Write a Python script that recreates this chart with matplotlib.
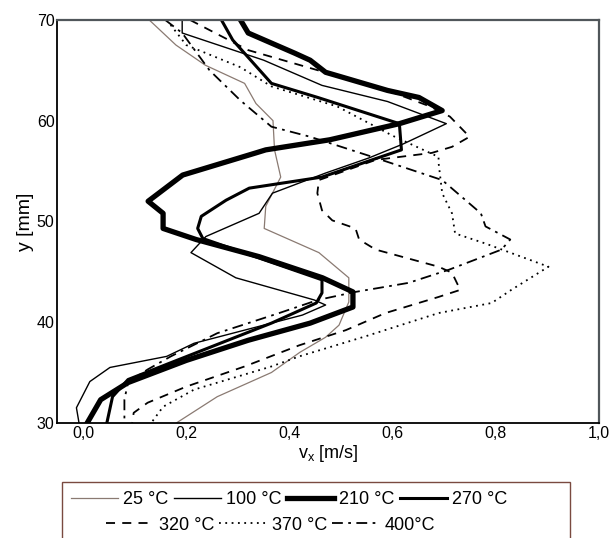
import matplotlib.pyplot as plt
from matplotlib.patches import Rectangle

plt.rcParams['font.family'] = ['Liberation Sans', 'DejaVu Sans']

# perfiles de velocidad v_x [m/s] frente a la altura y [mm]
y_25 = [70, 67.5, 65.5, 63.7, 61.7, 60, 57.1, 54.4, 51.5, 49.3, 46.9, 44.4, 42, 39.7, 38.5, 37, 35, 32.6, 30]
v_25 = [0.128, 0.18, 0.237, 0.313, 0.335, 0.368, 0.371, 0.383, 0.354, 0.351, 0.457, 0.515, 0.515, 0.496, 0.47, 0.42, 0.365, 0.26, 0.181]

y_100 = [70, 68.7, 66.0, 63.5, 61.9, 59.7, 57.7, 56.3, 54.8, 52.8, 50.8, 48.5, 46.9, 44.4, 42.2, 41.7, 40.7, 37.9, 36.6, 35.5, 34.1, 31.5, 30]
v_100 = [0.192, 0.192, 0.35, 0.463, 0.59, 0.704, 0.621, 0.554, 0.47, 0.367, 0.341, 0.238, 0.209, 0.296, 0.448, 0.47, 0.425, 0.215, 0.162, 0.052, 0.013, -0.013, -0.008]

y_210 = [70, 68.7, 66.7, 66.0, 64.8, 63.0, 62.3, 61.0, 59.7, 58.1, 57.1, 56.8, 54.6, 52.0, 50.8, 49.3, 48.2, 46.5, 44.4, 43.0, 41.5, 39.9, 38.2, 36.2, 34.0, 32.3, 30]
v_210 = [0.305, 0.32, 0.41, 0.44, 0.47, 0.59, 0.651, 0.696, 0.613, 0.478, 0.354, 0.335, 0.193, 0.126, 0.155, 0.155, 0.219, 0.341, 0.464, 0.523, 0.523, 0.44, 0.32, 0.20, 0.087, 0.034, 0.008]

y_270 = [70, 68, 63.7, 62.3, 59.7, 57.1, 56.0, 54.4, 53.3, 52.1, 50.5, 49.3, 48.3, 44.2, 42.9, 41.9, 39.9, 34.3, 32.6, 30]
v_270 = [0.268, 0.29, 0.365, 0.455, 0.613, 0.617, 0.554, 0.463, 0.322, 0.277, 0.229, 0.222, 0.232, 0.463, 0.463, 0.452, 0.365, 0.087, 0.057, 0.046]

y_320 = [70, 67, 65, 63, 61.4, 60.4, 58.4, 57.4, 56.8, 56.1, 54.1, 52.8, 51.1, 50.1, 49.3, 48.2, 47.2, 45.5, 44.9, 43.2, 42.5, 40.9, 39.2, 37.7, 35.6, 33.6, 32.0, 31.0, 30]
v_320 = [0.207, 0.32, 0.455, 0.59, 0.673, 0.711, 0.749, 0.715, 0.676, 0.567, 0.457, 0.454, 0.463, 0.483, 0.528, 0.535, 0.567, 0.689, 0.715, 0.731, 0.689, 0.586, 0.509, 0.419, 0.313, 0.2, 0.125, 0.098, 0.095]

y_370 = [70, 67.5, 65.3, 63.4, 61.4, 58.5, 56.4, 55.8, 52.8, 50.8, 48.8, 47.8, 45.5, 43.2, 41.9, 40.9, 38.6, 36.6, 35.6, 33.3, 31.6, 30]
v_370 = [0.162, 0.2, 0.305, 0.365, 0.493, 0.60, 0.689, 0.689, 0.696, 0.715, 0.721, 0.78, 0.902, 0.83, 0.792, 0.689, 0.548, 0.419, 0.365, 0.215, 0.155, 0.132]

y_400 = [70, 68.7, 65, 62, 59.4, 58.4, 56.4, 54.1, 50.8, 49.5, 48.2, 47.2, 45.2, 43.9, 43.0, 42.2, 40.9, 38.9, 36.6, 35.3, 34.0, 32.3, 30]
v_400 = [0.159, 0.192, 0.245, 0.305, 0.365, 0.44, 0.561, 0.696, 0.771, 0.78, 0.828, 0.811, 0.709, 0.631, 0.528, 0.455, 0.38, 0.26, 0.17, 0.125, 0.087, 0.08, 0.08]

fig = plt.figure(figsize=(6.1, 5.38), dpi=100)
ax = fig.add_axes([0.094, 0.214, 0.888, 0.749])

l25, = ax.plot(v_25, y_25, color='#8a7a72', lw=0.9, label='25 °C')
l100, = ax.plot(v_100, y_100, color='black', lw=1.0, label='100 °C')
l210, = ax.plot(v_210, y_210, color='black', lw=3.8, label='210 °C')
l270, = ax.plot(v_270, y_270, color='black', lw=2.2, label='270 °C')
l320, = ax.plot(v_320, y_320, color='black', lw=1.3, ls=(0, (5, 4)), label='320 °C')
l370, = ax.plot(v_370, y_370, color='black', lw=1.3, ls=(0, (1, 2.5)), label='370 °C')
l400, = ax.plot(v_400, y_400, color='black', lw=1.3, ls=(0, (6, 3, 1.5, 3)), label='400°C')

ax.set_xlim(-0.05, 1.0)
ax.set_ylim(30, 70)
ax.set_xticks([0, 0.2, 0.4, 0.6, 0.8, 1.0])
ax.set_xticklabels(['0,0', '0,2', '0,4', '0,6', '0,8', '1,0'])
ax.set_yticks([30, 40, 50, 60, 70])
ax.tick_params(length=0, labelsize=11.5, pad=2)
for s in ['left', 'bottom']:
    ax.spines[s].set_color('black')
    ax.spines[s].set_linewidth(1.3)
for s in ['top', 'right']:
    ax.spines[s].set_color('#50565a')
    ax.spines[s].set_linewidth(1.6)

ax.set_xlabel(r'v$_\mathregular{x}$ [m/s]', fontsize=13, labelpad=2)
ax.set_ylabel('y [mm]', fontsize=14, labelpad=2)

# caja de la leyenda (dos filas centradas)
fig.patches.append(Rectangle((62 / 610, -0.05), (570 - 62) / 610, 1 - 482 / 538 + 0.05,
                             transform=fig.transFigure, fill=False,
                             edgecolor='#7a4a40', lw=1.0))
fig.legend(handles=[l25, l100, l210, l270], loc='center', ncol=4,
           bbox_to_anchor=(0.474, 1 - 500 / 538), frameon=False, fontsize=13,
           handlelength=2.6, handletextpad=0.3, columnspacing=0.3,
           borderpad=0, borderaxespad=0)
fig.legend(handles=[l320, l370, l400], loc='center', ncol=3,
           bbox_to_anchor=(0.444, 1 - 525 / 538), frameon=False, fontsize=13,
           handlelength=2.6, handletextpad=0.3, columnspacing=0.3,
           borderpad=0, borderaxespad=0)

fig.savefig('out.png', dpi=100)
